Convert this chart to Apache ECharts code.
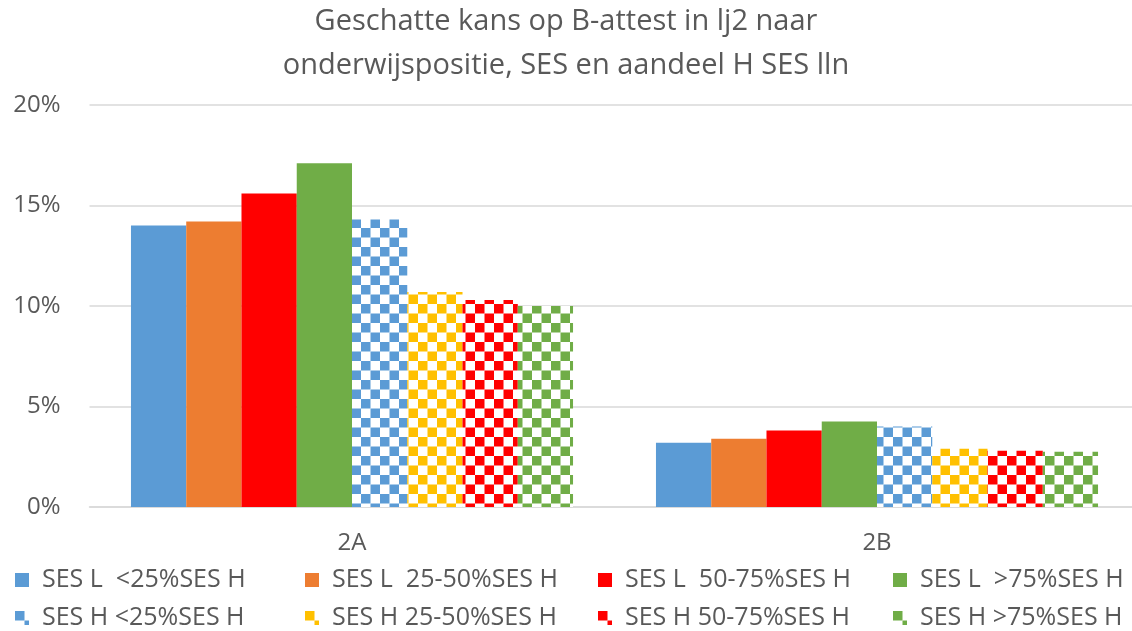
<!DOCTYPE html>
<html>
<head>
<meta charset="utf-8">
<script src="https://cdn.jsdelivr.net/npm/echarts@6/dist/echarts.min.js"></script>
<style>html,body{margin:0;padding:0;background:#fff}#c{width:1132px;height:631px}</style>
</head>
<body>
<div id="c"></div>
<script>
const categories = ['2A', '2B'];
const seriesNames = [
  'SES L  <25%SES H', 'SES L  25-50%SES H', 'SES L  50-75%SES H', 'SES L  >75%SES H',
  'SES H <25%SES H', 'SES H 25-50%SES H', 'SES H 50-75%SES H', 'SES H >75%SES H'
];
const sesL_lt25 = [14.0, 3.2];
const sesL_25_50 = [14.2, 3.4];
const sesL_50_75 = [15.6, 3.8];
const sesL_gt75 = [17.1, 4.25];
const sesH_lt25 = [14.3, 4.0];
const sesH_25_50 = [10.7, 2.9];
const sesH_50_75 = [10.3, 2.8];
const sesH_gt75 = [10.0, 2.75];
const yTicks = [0, 5, 10, 15, 20];
const titleText = 'Geschatte kans op B-attest in lj2 naar\nonderwijspositie, SES en aandeel H SES lln';

const colors = ['#5b9bd5', '#ed7d31', '#ff0000', '#70ad47', '#5b9bd5', '#ffc000', '#ff0000', '#70ad47'];
const values = [sesL_lt25, sesL_25_50, sesL_50_75, sesL_gt75, sesH_lt25, sesH_25_50, sesH_50_75, sesH_gt75];

function pattern(color) {
  const s = 19, h = s / 2;
  const cv = document.createElement('canvas');
  cv.width = s; cv.height = s;
  const ctx = cv.getContext('2d');
  ctx.fillStyle = '#ffffff';
  ctx.fillRect(0, 0, s, s);
  ctx.fillStyle = color;
  ctx.fillRect(0, 0, h, h);
  ctx.fillRect(h, h, h, h);
  return { image: cv, repeat: 'repeat' };
}

const font = 'Open Sans';
const txtColor = '#595959';

const series = values.map((v, i) => ({
  name: seriesNames[i],
  type: 'bar',
  data: v,
  barGap: '0%',
  barCategoryGap: '15.8%',
  itemStyle: { color: i < 4 ? colors[i] : pattern(colors[i]) }
}));

const legendCols = [15, 305, 598, 893];
const legendRows = [565, 603];
const legends = seriesNames.map((n, i) => ({
  left: legendCols[i % 4],
  top: legendRows[Math.floor(i / 4)],
  padding: 0,
  itemWidth: 14,
  itemHeight: 14,
  icon: 'rect',
  data: [n],
  textStyle: { fontFamily: font, fontSize: 25, lineHeight: 30, color: txtColor, padding: [0, 0, 0, 8] }
}));

const chart = echarts.init(document.getElementById('c'), null, { renderer: 'canvas' });
chart.setOption({
  animation: false,
  backgroundColor: '#ffffff',
  color: colors,
  title: {
    text: titleText,
    left: 'center',
    top: 0,
    padding: 0,
    textStyle: { fontFamily: font, fontSize: 29, fontWeight: 'normal', color: txtColor, lineHeight: 44 }
  },
  legend: legends,
  grid: { left: 89.5, width: 1050, top: 105, bottom: 124, outerBoundsMode: 'none', containLabel: false },
  xAxis: {
    type: 'category',
    data: categories,
    axisLine: { lineStyle: { color: '#d9d9d9', width: 1.5 } },
    axisTick: { show: false },
    axisLabel: { fontFamily: font, fontSize: 24, color: txtColor, margin: 24 }
  },
  yAxis: {
    type: 'value',
    min: 0,
    max: 20,
    interval: 5,
    axisLine: { show: false },
    axisTick: { show: false },
    splitLine: { lineStyle: { color: '#d9d9d9', width: 1.5 } },
    axisLabel: { fontFamily: font, fontSize: 24, color: txtColor, margin: 29, formatter: v => yTicks.includes(v) ? v + '%' : '' }
  },
  series: series
});
</script>
</body>
</html>
